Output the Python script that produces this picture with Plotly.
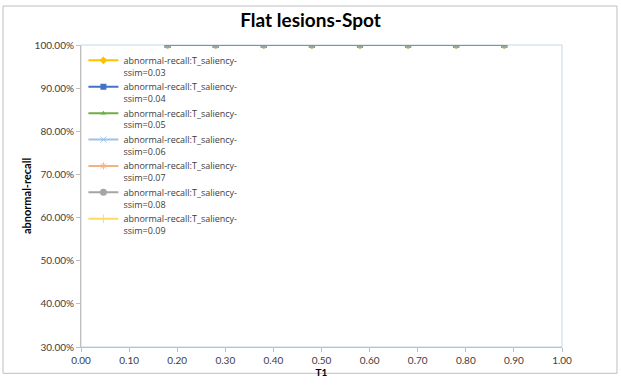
import plotly.graph_objects as go

t1 = [0.18, 0.28, 0.38, 0.48, 0.58, 0.68, 0.78, 0.88]
ssim_labels = ["0.03", "0.04", "0.05", "0.06", "0.07", "0.08", "0.09"]
recall = {
    "0.03": [1.0, 1.0, 1.0, 1.0, 1.0, 1.0, 1.0, 1.0],
    "0.04": [1.0, 1.0, 1.0, 1.0, 1.0, 1.0, 1.0, 1.0],
    "0.05": [1.0, 1.0, 1.0, 1.0, 1.0, 1.0, 1.0, 1.0],
    "0.06": [1.0, 1.0, 1.0, 1.0, 1.0, 1.0, 1.0, 1.0],
    "0.07": [1.0, 1.0, 1.0, 1.0, 1.0, 1.0, 1.0, 1.0],
    "0.08": [1.0, 1.0, 1.0, 1.0, 1.0, 1.0, 1.0, 1.0],
    "0.09": [1.0, 1.0, 1.0, 1.0, 1.0, 1.0, 1.0, 1.0],
}
colors = {"0.03": "#FFC000", "0.04": "#4472C4", "0.05": "#70AD47", "0.06": "#9DC3E6",
          "0.07": "#F4B183", "0.08": "#A5A5A5", "0.09": "#FFD966"}
symbols = {"0.03": "diamond", "0.04": "square", "0.05": "triangle-up", "0.06": "x-thin",
           "0.07": "asterisk", "0.08": "circle", "0.09": "line-ns"}
sizes = {"0.03": 6, "0.04": 6, "0.05": 5, "0.06": 6, "0.07": 6, "0.08": 7, "0.09": 6}
draw_order = ["0.03", "0.06", "0.07", "0.09", "0.04", "0.08", "0.05"]

FONT = "Lato"
LEG_FONT = "Open Sans"
fig = go.Figure()
for s in draw_order:
    c = colors[s]
    sym = symbols[s]
    open_sym = sym in ("x-thin", "asterisk", "line-ns")
    fig.add_trace(go.Scatter(
        x=t1, y=recall[s], mode="lines+markers",
        name="abnormal-recall:T_saliency-<br>ssim=" + s,
        legendrank=ssim_labels.index(s) + 1,
        line=dict(color=c, width=2),
        marker=dict(symbol=sym, size=sizes[s], color=c,
                    line=dict(color=c, width=1 if open_sym else 0)),
    ))

x0, x1 = 81, 562
y0, y1 = 45, 355
W, H = 621, 385
pw, ph = x1 - x0, y1 - y0
fig.add_shape(type="rect", xref="paper", yref="paper",
              x0=(3 - x0) / pw, x1=(617 - x0) / pw,
              y0=(y1 - 382) / ph, y1=(y1 - 5) / ph,
              line=dict(color="#BFBFBF", width=1), layer="below")
fig.add_shape(type="rect", xref="paper", yref="paper", x0=0, x1=1, y0=0, y1=1,
              line=dict(color="#C5D5E6", width=1), layer="below")

fig.update_layout(
    width=W, height=H,
    margin=dict(l=x0, r=W - x1, t=y0, b=H - y1),
    paper_bgcolor="white", plot_bgcolor="white",
    font=dict(family=FONT, size=10, color="#404040"),
    title=dict(text="<b>Flat lesions-Spot</b>", x=0.5, xanchor="center", y=1 - 20 / H, yanchor="middle",
               font=dict(family=FONT, size=19, color="black")),
    showlegend=True,
    legend=dict(x=0.005, y=0.99, xanchor="left", yanchor="top", bgcolor="rgba(0,0,0,0)",
                font=dict(family=LEG_FONT, size=9, color="#404040"), valign="top",
                tracegroupgap=0, itemwidth=30),
    xaxis=dict(range=[0, 1], dtick=0.1, tickformat=".2f", showgrid=False, zeroline=False,
               showline=True, linecolor="#BFBFBF", ticks="outside", ticklen=4, tickcolor="#BFBFBF",
               tickfont=dict(family=FONT, size=10, color="#404040"),
               title=dict(text="<b>T1</b>", standoff=0, font=dict(family=FONT, size=10, color="black"))),
    yaxis=dict(range=[0.3, 1.0], dtick=0.1, tickformat=".2%", showgrid=False, zeroline=False,
               showline=True, linecolor="#BFBFBF", ticks="outside", ticklen=4, tickcolor="#BFBFBF",
               tickfont=dict(family=FONT, size=10, color="#404040"),
               title=dict(text="<b>abnormal-recall</b>", standoff=0, font=dict(family=FONT, size=11, color="black"))),
)
fig.write_html("out.html")
